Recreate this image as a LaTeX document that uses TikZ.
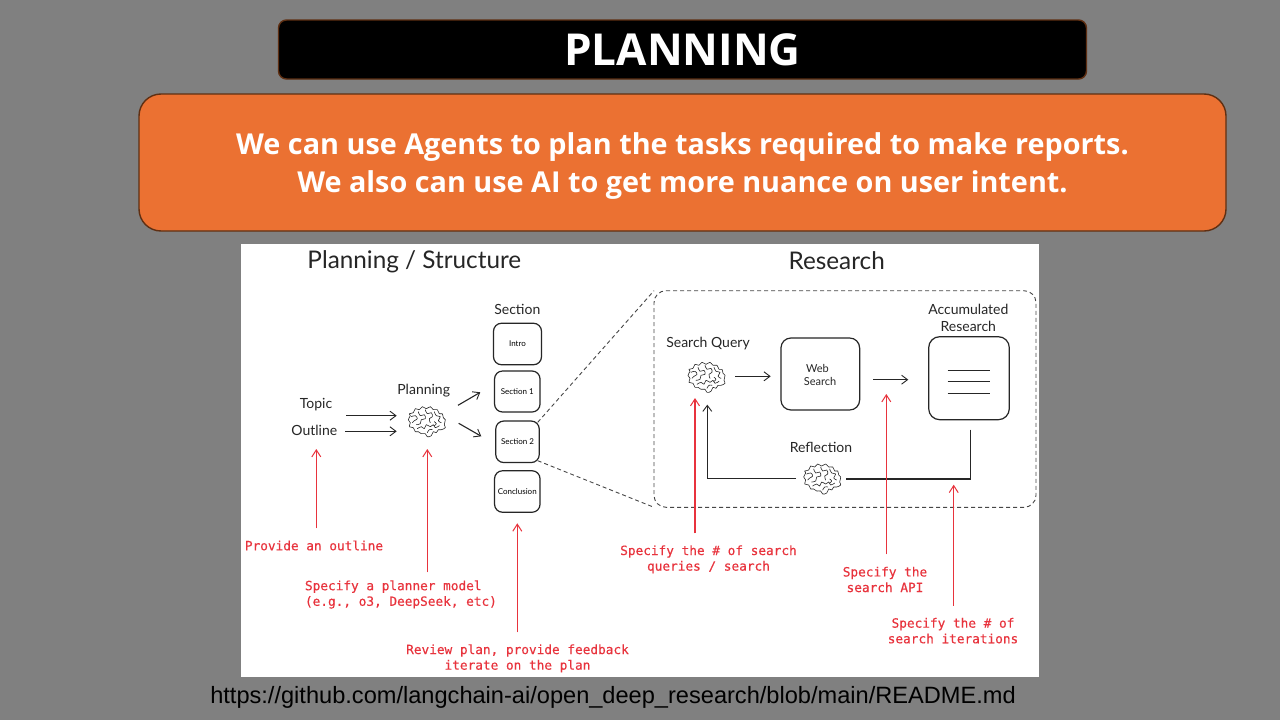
\documentclass[tikz,border=0pt]{standalone}
\usepackage{fontspec}
\usetikzlibrary{arrows.meta}
\setmainfont{Open Sans}
\newfontfamily\sketchfont{Lato}
\newfontfamily\redfont[FakeBold=0.3]{DejaVu Sans Mono}
\newfontfamily\urlfont{Liberation Sans}
\definecolor{slidebg}{HTML}{808080}
\definecolor{accent}{HTML}{EB7132}
\definecolor{edgebrown}{HTML}{5F2F12}
\definecolor{ink}{HTML}{262626}
\definecolor{redink}{HTML}{E8333D}
\tikzset{
  x=1pt,y=-1pt,
  banner/.style={draw=edgebrown,line width=1.4pt,inner sep=0pt,outer sep=0pt,align=center,text=white},
  sketchbox/.style={draw=ink,line width=1.2pt,inner sep=0pt,outer sep=0pt,rounded corners=8pt,fill=white,align=center},
  sk/.style={inner sep=0pt,outer sep=0pt,text=ink,align=center},
  skt/.style={sk,font=\sketchfont\fontsize{14}{17}\selectfont},
  sks/.style={sk,font=\sketchfont\fontsize{11}{13}\selectfont},
  skm/.style={font=\sketchfont\fontsize{8}{10}\selectfont},
  skh/.style={sk,font=\sketchfont\fontsize{24.3}{28}\selectfont},
  redlabel/.style={inner sep=0pt,outer sep=0pt,text=redink,align=center,font=\redfont\fontsize{12.75}{15.6}\selectfont},
  blackarrow/.style={draw=ink,line width=1.1pt,-{Straight Barb[length=6pt,width=9pt,line width=.9pt]}},
  redarrow/.style={draw=redink,line width=1.1pt,-{Straight Barb[length=7pt,width=9pt,line width=1pt]}},
  dashline/.style={draw=ink!85,line width=.9pt,dash pattern=on 4pt off 3pt},
  brainline/.style={draw=ink,line width=.6pt,line join=round,line cap=round},
  pics/brain/.style={code={
    \draw[brainline,fill=white] plot[smooth cycle,tension=.7] coordinates {
      (-18,-2)(-16,-6)(-17,-8)(-13,-9)(-11,-13)(-7,-12)(-4,-15)(0,-13)(4,-15)(7,-12)(11,-12)(13,-8)(16,-8)(17,-4)(19,-2)(18,3)(19,6)(15,8)(12,8)(10,11)(7,10)(5,14)(1,15)(-1,12)(-5,12)(-8,10)(-11,10)(-13,6)(-17,5)(-16,1)};
    \draw[brainline] plot[smooth,tension=.7] coordinates {(-15,-5)(-11,-6)(-9,-3)(-12,-1)(-14,1)};
    \draw[brainline] plot[smooth,tension=.7] coordinates {(-8,-10)(-6,-6)(-2,-7)(-1,-3)(-5,-2)(-6,2)(-10,3)};
    \draw[brainline] plot[smooth,tension=.7] coordinates {(-1,-12)(1,-8)(5,-9)(6,-5)(3,-3)(4,1)};
    \draw[brainline] plot[smooth,tension=.7] coordinates {(8,-10)(10,-6)(14,-5)(12,-1)(15,1)};
    \draw[brainline] plot[smooth,tension=.7] coordinates {(-9,7)(-5,5)(-2,7)(0,3)(4,5)(7,3)(9,6)(13,4)};
    \draw[brainline] plot[smooth,tension=.7] coordinates {(1,11)(3,8)(6,8)};
    \draw[brainline] plot[smooth,tension=.7] coordinates {(8,0)(10,2)(8,4)};
  }}
}
\begin{document}
\begin{tikzpicture}
\useasboundingbox (0,0) rectangle (1280,720);
\fill[slidebg] (0,0) rectangle (1280,720);
\node[banner,fill=black,rounded corners=8pt,minimum width=808pt,minimum height=59pt,font=\bfseries\fontsize{44}{50}\selectfont] (titlebox) at (682.5,49.5) {PLANNING};
\node[banner,fill=accent,rounded corners=22pt,minimum width=1087pt,minimum height=137pt] (intro) at (682.5,162.5) {};
\node[inner sep=0pt,outer sep=0pt,align=center,text=white,font=\bfseries\fontsize{28.8}{38}\selectfont] (introtext) at (682.5,166.5) {We can use Agents to plan the tasks required to make reports.\\We also can use AI to get more nuance on user intent.};
\fill[white] (241,244) rectangle (1039,677);
\node[skh] (plantitle) at (414.3,261.5) {Planning / Structure};
\node[skh] (restitle) at (836.7,261) {Research};
\node[skt] (topic) at (316,405) {Topic};
\node[skt] (outline) at (314.3,430.5) {Outline};
\node[skt] (planning) at (423.7,391) {Planning};
\node[skt] (section) at (517.3,309) {Section};
\pic (brainA) at (426.3,421.7) {brain};
\node[sketchbox,skm,minimum width=48pt,minimum height=41.5pt] (intro2) at (517.5,344) {Intro};
\node[sketchbox,skm,minimum width=45.5pt,minimum height=41pt] (sec1) at (517.3,391.5) {Section 1};
\node[sketchbox,skm,minimum width=43.5pt,minimum height=41.5pt] (sec2) at (517.5,441.8) {Section 2};
\node[sketchbox,skm,minimum width=45.5pt,minimum height=41.5pt] (concl) at (517.3,491.5) {Conclusion};
\node[draw=none,inner sep=0pt,outer sep=0pt,minimum width=382pt,minimum height=216.6pt] (dbox) at (845,399) {};
\draw[dashline,rounded corners=12pt] (dbox.north west) -- (dbox.north east) -- (dbox.south east) -- (dbox.south west) -- cycle;
\coordinate (s2a) at (537.7,422.3);
\coordinate (s2b) at (537.7,460.7);
\draw[dashline] (s2a) -- (dbox.north west);
\draw[dashline] (s2b) -- (dbox.south west);
\coordinate (t1) at (346,415.7); \coordinate (b1) at (396.7,415.7);
\coordinate (t2) at (345,431.3); \coordinate (b2) at (396.7,431.3);
\coordinate (p1) at (458,405.3); \coordinate (q1) at (480.3,392.3);
\coordinate (p2) at (458.7,423.3); \coordinate (q2) at (481.3,436.3);
\draw[blackarrow] (t1) -- (b1);
\draw[blackarrow] (t2) -- (b2);
\draw[blackarrow] (p1) -- (q1);
\draw[blackarrow] (p2) -- (q2);
\node[skt] (sq) at (708,344) {Search Query};
\pic (brainB) at (706,377.3) {brain};
\node[sketchbox,rounded corners=10pt,minimum width=78.7pt,minimum height=72pt] (web) at (820.3,374) {};
\node[sks] (webtext) at (820,375) {\hspace*{-5pt}Web\\Search};
\node[sketchbox,rounded corners=11pt,minimum width=80.6pt,minimum height=83pt] (acc) at (969,378.2) {};
\node[skt] (acct) at (968.3,317.5) {Accumulated\\Research};
\coordinate (la) at (947.7,370); \coordinate (lb) at (990,370);
\coordinate (lc) at (947.7,381); \coordinate (ld) at (990,381);
\coordinate (le) at (947.7,393); \coordinate (lf) at (990,393);
\draw[draw=ink,line width=1pt] (la) -- (lb) (lc) -- (ld) (le) -- (lf);
\coordinate (a1) at (735.3,376.3); \coordinate (a2) at (770.7,376.3);
\coordinate (a3) at (873.3,379.7); \coordinate (a4) at (908.3,379.7);
\draw[blackarrow] (a1) -- (a2);
\draw[blackarrow] (a3) -- (a4);
\node[skt] (refl) at (821,447.3) {Reflection};
\pic (brainC) at (821.7,479) {brain};
\coordinate (f1) at (970.3,429.7); \coordinate (f2) at (970.3,479); \coordinate (f3) at (846,479);
\coordinate (f4) at (796,478.7); \coordinate (f5) at (707.3,478.7); \coordinate (f6) at (707.3,404.7);
\draw[draw=ink,line width=1.1pt] (f1) -- (f2) -- (f3);
\draw[blackarrow] (f4) -- (f5) -- (f6);
\node[redlabel] (r1) at (314,545.5) {Provide an outline};
\node[redlabel,align=left,anchor=west] (r2) at (305,594.5) {Specify a planner model\\(e.g., o3, DeepSeek, etc)};
\node[redlabel] (r3) at (517.5,658.3) {Review plan, provide feedback\\iterate on the plan};
\node[redlabel] (r4) at (708.5,559.3) {Specify the \# of search\\queries / search};
\node[redlabel] (r5) at (885,579.5) {Specify the\\search API};
\node[redlabel] (r6) at (953,630.7) {Specify the \# of\\search iterations};
\coordinate (ra) at (316.3,528.3); \coordinate (rA) at (316.3,449);
\coordinate (rb) at (427.3,572.3); \coordinate (rB) at (427.3,449);
\coordinate (rc) at (517.3,632.3); \coordinate (rC) at (517.3,523.3);
\coordinate (rd) at (695,533.3); \coordinate (rD) at (695,398);
\coordinate (re) at (886.3,554.3); \coordinate (rE) at (886.3,394);
\coordinate (rf) at (953.7,605.7); \coordinate (rF) at (953.7,484.7);
\draw[redarrow] (ra) -- (rA);
\draw[redarrow] (rb) -- (rB);
\draw[redarrow] (rc) -- (rC);
\draw[redarrow] (rd) -- (rD);
\draw[redarrow] (re) -- (rE);
\draw[redarrow] (rf) -- (rF);
\node[inner sep=0pt,outer sep=0pt,text=black,font=\urlfont\fontsize{23.6}{26}\selectfont] (url) at (613,697.5) {https://github.com/langchain-ai/open\_deep\_research/blob/main/README.md};
\end{tikzpicture}
\end{document}
